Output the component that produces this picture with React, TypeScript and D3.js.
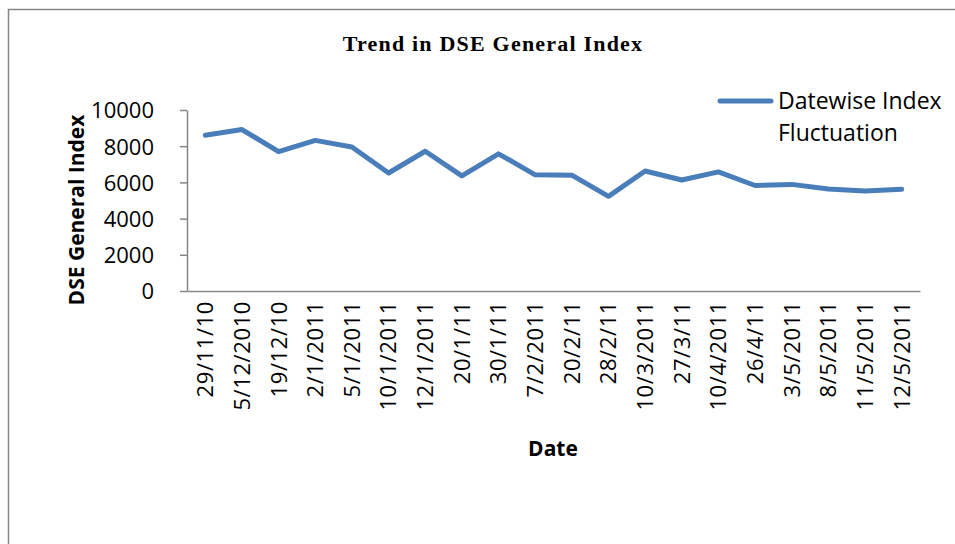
import React, { useEffect, useRef } from 'react'
import * as d3 from 'd3'

const dates = [
  '29/11/10', '5/12/2010', '19/12/10', '2/1/2011', '5/1/2011', '10/1/2011', '12/1/2011',
  '20/1/11', '30/1/11', '7/2/2011', '20/2/11', '28/2/11', '10/3/2011', '27/3/11',
  '10/4/2011', '26/4/11', '3/5/2011', '8/5/2011', '11/5/2011', '12/5/2011',
]
const indexValues = [
  8600, 8920, 7700, 8320, 7960, 6520, 7720, 6360, 7580, 6420,
  6400, 5230, 6630, 6130, 6580, 5830, 5890, 5640, 5520, 5620,
]
const yTicks = [0, 2000, 4000, 6000, 8000, 10000]

export default function App() {
  const ref = useRef<HTMLDivElement | null>(null)

  useEffect(() => {
    const container = d3.select(ref.current!)
    container.selectAll('*').remove()
    const width = 955
    const height = 544
    const margin = { top: 110, right: 35, bottom: 253, left: 187 }
    const font = '"Open Sans", sans-serif'

    d3.select(document.body).style('margin', '0')
    const svg = container.append('svg').attr('width', width).attr('height', height)
      .style('display', 'block').style('background', '#fff')

    // chart frame (runs off the right and bottom edges)
    svg.append('rect').attr('x', 8.5).attr('y', 9.5).attr('width', 960).attr('height', 560)
      .attr('fill', 'none').attr('stroke', '#868686').attr('stroke-width', 1.5)

    const x = d3.scaleBand<string>().domain(dates).range([margin.left, width - margin.right])
    const y = d3.scaleLinear().domain([0, 10000]).range([height - margin.bottom, margin.top])

    const gy = svg.append('g').attr('transform', `translate(${margin.left},0)`)
      .call(d3.axisLeft(y).tickValues(yTicks).tickFormat(d3.format('d')).tickSize(7).tickPadding(26).tickSizeOuter(0))
    gy.select('.domain').attr('stroke', '#868686').attr('stroke-width', 1.5)
    gy.selectAll('line').attr('stroke', '#868686').attr('stroke-width', 1.5)
    gy.selectAll('text').attr('font-family', font).attr('font-size', 22).attr('fill', '#000')
      .attr('dy', '0.36em')

    const gx = svg.append('g').attr('transform', `translate(0,${y(0)})`)
      .call(d3.axisBottom(x).tickSize(0).tickSizeOuter(0))
    gx.select('.domain').attr('stroke', '#868686').attr('stroke-width', 1.5)
    gx.selectAll('text')
      .attr('font-family', font).attr('font-size', 22).attr('fill', '#000')
      .attr('letter-spacing', 0.6)
      .attr('text-anchor', 'end').attr('dy', '0.36em').attr('y', 0)
      .attr('transform', 'translate(0,10) rotate(-90)')

    const line = d3.line<number>()
      .x((_, i) => (x(dates[i]) ?? 0) + x.bandwidth() / 2)
      .y(d => y(d))
    svg.append('path').datum(indexValues).attr('d', line)
      .attr('fill', 'none').attr('stroke', '#4a7ebb').attr('stroke-width', 5)
      .attr('stroke-linejoin', 'round').attr('stroke-linecap', 'round')

    svg.append('text').attr('x', 493).attr('y', 51).attr('text-anchor', 'middle')
      .attr('font-family', '"Liberation Serif", serif').attr('font-weight', 700).attr('font-size', 22)
      .attr('letter-spacing', 1.2)
      .text('Trend in DSE General Index')

    svg.append('text').attr('x', 553).attr('y', 456).attr('text-anchor', 'middle')
      .attr('font-family', font).attr('font-weight', 700).attr('font-size', 21)
      .text('Date')

    svg.append('text').attr('transform', 'translate(84,210) rotate(-90)').attr('text-anchor', 'middle')
      .attr('font-family', font).attr('font-weight', 700).attr('font-size', 21)
      .text('DSE General Index')

    // legend
    svg.append('line').attr('x1', 720).attr('x2', 771).attr('y1', 101).attr('y2', 101)
      .attr('stroke', '#4a7ebb').attr('stroke-width', 5).attr('stroke-linecap', 'round')
    const lt = svg.append('text').attr('font-family', font).attr('font-size', 23).attr('fill', '#000')
    lt.append('tspan').attr('x', 778).attr('y', 109).text('Datewise Index')
    lt.append('tspan').attr('x', 778).attr('y', 141).text('Fluctuation')
  }, [])

  return <div ref={ref} />
}
